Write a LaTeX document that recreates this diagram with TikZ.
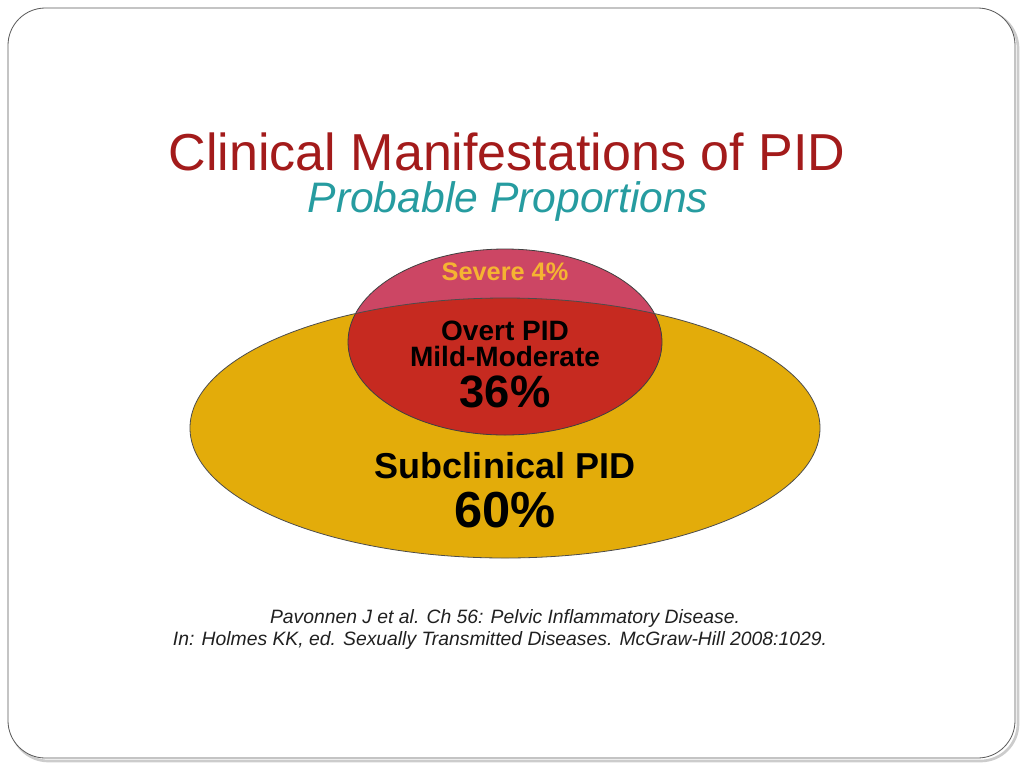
\documentclass[tikz,border=0pt]{standalone}
\usepackage{fontspec}
\setmainfont{Liberation Sans}
\begin{document}
\begin{tikzpicture}[x=0.75pt,y=-0.75pt,
  txt/.style={font=\bfseries, text=black, inner sep=0, anchor=base}]
\useasboundingbox (0,0) rectangle (1024,768);
\fill[white] (0,0) rectangle (1024,768);
\draw[gray!40, line width=2pt, rounded corners=28pt] (11,11) rectangle (1018,761);
\draw[gray!70!black, line width=0.6pt, fill=white, rounded corners=28pt] (8,8) rectangle (1015,758);
\node[anchor=base, text={rgb,255:red,163;green,27;blue,27}, font=\fontsize{39}{46}\selectfont, inner sep=0] (title) at (507,170) {Clinical Manifestations of PID};
\node[anchor=base, text={rgb,255:red,38;green,156;blue,160}, font=\fontsize{32}{38}\selectfont\itshape, inner sep=0] (sub) at (508,212) {Probable Proportions};
\definecolor{gold}{RGB}{227,172,10}
\definecolor{pinkred}{RGB}{204,70,100}
\definecolor{redc}{RGB}{198,42,32}
\fill[gold] (505,428) ellipse [x radius=315, y radius=130];
\fill[pinkred] (505,342) ellipse [x radius=157, y radius=93];
\begin{scope}
\clip (505,428) ellipse [x radius=315, y radius=130];
\fill[redc] (505,342) ellipse [x radius=157, y radius=93];
\end{scope}
\draw[gray!50!black, line width=0.6pt] (505,342) ellipse [x radius=157, y radius=93];
\draw[gray!60!black, line width=0.6pt] (505,428) ellipse [x radius=315, y radius=130];
\node[txt, text={rgb,255:red,245;green,180;blue,50}, font=\bfseries\fontsize{19}{24}\selectfont] (sev) at (505,280) {Severe 4\%};
\node[txt, font=\bfseries\fontsize{21}{25}\selectfont] (ov1) at (505,340) {Overt PID};
\node[txt, font=\bfseries\fontsize{21}{25}\selectfont] (ov2) at (505,366) {Mild-Moderate};
\node[txt, font=\bfseries\fontsize{34}{40}\selectfont] (p36) at (505,407) {36\%};
\node[txt, font=\bfseries\fontsize{27}{32}\selectfont] (subc) at (505,478) {Subclinical PID};
\node[txt, font=\bfseries\fontsize{38}{44}\selectfont] (p60) at (505,527) {60\%};
\node[anchor=base, text=gray!25!black, font=\itshape\fontsize{14.5}{18}\selectfont, inner sep=0] (cit1) at (505,623) {Pavonnen J et al. Ch 56: Pelvic Inflammatory Disease.};
\node[anchor=base, text=gray!25!black, font=\itshape\fontsize{14.5}{18}\selectfont, inner sep=0] (cit2) at (500,645) {In: Holmes KK, ed. Sexually Transmitted Diseases. McGraw-Hill 2008:1029.};
\end{tikzpicture}
\end{document}
